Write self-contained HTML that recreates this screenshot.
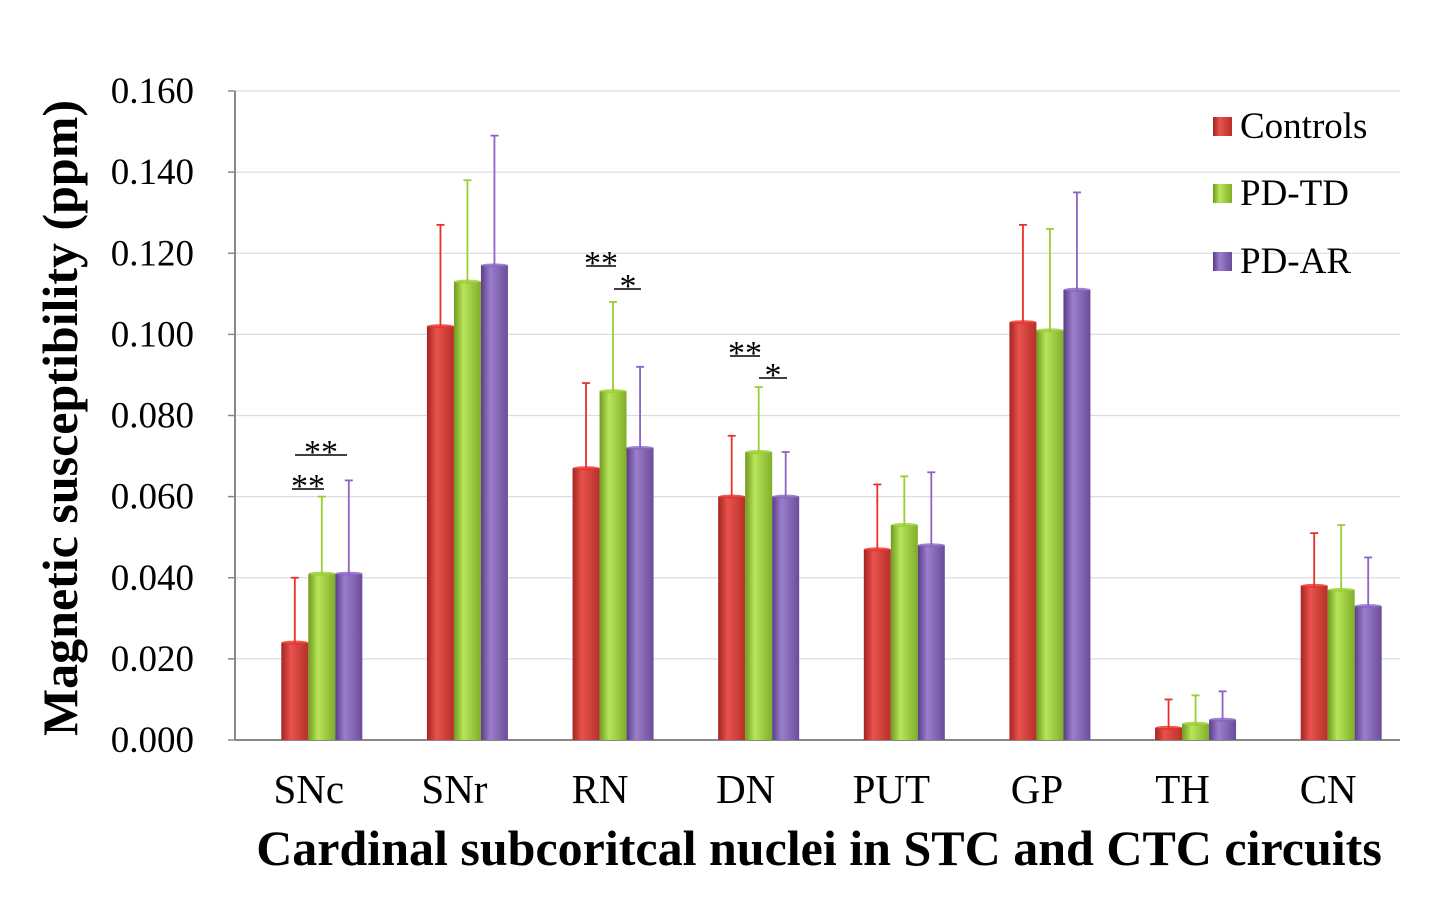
<!DOCTYPE html>
<html><head><meta charset="utf-8"><style>
body{margin:0;background:#fff;}
svg{display:block;font-family:"Liberation Serif",serif;}
</style></head><body>
<svg id="chart" width="1438" height="916" viewBox="0 0 1438 916">
<defs>
<linearGradient id="gr" x1="0" x2="1"><stop offset="0" stop-color="#a52420"/><stop offset="0.35" stop-color="#e8524c"/><stop offset="1" stop-color="#b7302b"/></linearGradient>
<linearGradient id="gg" x1="0" x2="1"><stop offset="0" stop-color="#6f9a1e"/><stop offset="0.35" stop-color="#b9e55a"/><stop offset="1" stop-color="#7fae28"/></linearGradient>
<linearGradient id="gp" x1="0" x2="1"><stop offset="0" stop-color="#5a3d85"/><stop offset="0.35" stop-color="#9b7fcc"/><stop offset="1" stop-color="#6b4d99"/></linearGradient>
</defs>
<g id="grid"></g><g id="bars"></g><g id="labels"></g>
<text transform="translate(77,418) rotate(-90)" text-anchor="middle" font-size="50" font-weight="bold">Magnetic susceptibility (ppm)</text>
<text x="819" y="865" text-anchor="middle" font-size="50" font-weight="bold">Cardinal subcoritcal nuclei in STC and CTC circuits</text>
<g font-size="37">
<rect x="1213" y="117" width="19" height="19" fill="url(#gr)"/>
<text x="1240" y="138">Controls</text>
<rect x="1213" y="184" width="19" height="19" fill="url(#gg)"/>
<text x="1240" y="205">PD-TD</text>
<rect x="1213" y="252" width="19" height="19" fill="url(#gp)"/>
<text x="1240" y="273">PD-AR</text>
</g>
<g font-size="34" text-anchor="middle">
<text x="308" y="497">**</text><line x1="292" x2="324" y1="489" y2="489" stroke="#000" stroke-width="1.5"/>
<text x="321" y="463">**</text><line x1="295" x2="347" y1="455" y2="455" stroke="#000" stroke-width="1.5"/>
<text x="601" y="274">**</text><line x1="586" x2="616" y1="266" y2="266" stroke="#000" stroke-width="1.5"/>
<text x="628" y="297">*</text><line x1="614" x2="641" y1="289" y2="289" stroke="#000" stroke-width="1.5"/>
<text x="745" y="364">**</text><line x1="730" x2="760" y1="356" y2="356" stroke="#000" stroke-width="1.5"/>
<text x="773" y="386">*</text><line x1="759" x2="787" y1="378" y2="378" stroke="#000" stroke-width="1.5"/>
</g>
</svg>
<script>
const categories=["SNc","SNr","RN","DN","PUT","GP","TH","CN"];
const controls=[0.024,0.102,0.067,0.060,0.047,0.103,0.003,0.038];
const pdTD=[0.041,0.113,0.086,0.071,0.053,0.101,0.004,0.037];
const pdAR=[0.041,0.117,0.072,0.060,0.048,0.111,0.005,0.033];
const controlsErr=[0.016,0.025,0.021,0.015,0.016,0.024,0.007,0.013];
const pdTDErr=[0.019,0.025,0.022,0.016,0.012,0.025,0.007,0.016];
const pdARErr=[0.023,0.032,0.020,0.011,0.018,0.024,0.007,0.012];
const yTicks=[0,0.02,0.04,0.06,0.08,0.1,0.12,0.14,0.16];
const NS="http://www.w3.org/2000/svg";
const x0=235,x1=1400,y0=740,y1=91;
const y=v=>y0-(v/0.16)*(y0-y1);
const band=(x1-x0)/categories.length;
const cx=i=>x0+band*(i+0.5);
function mk(t,a,p){const e=document.createElementNS(NS,t);for(const k in a)e.setAttribute(k,a[k]);p.appendChild(e);return e;}
const grid=document.getElementById('grid'),bars=document.getElementById('bars'),labels=document.getElementById('labels');
yTicks.forEach(v=>{
 const l=mk('line',{x1:x0,x2:x1,y1:y(v),y2:y(v),stroke:v===0?'#888':'#dcdce6','stroke-width':v===0?2:1.2},grid);
 
 
 mk('line',{x1:228,x2:x0,y1:y(v),y2:y(v),stroke:'#888','stroke-width':1.5},grid);
 const t=mk('text',{x:194,y:y(v)+12,'text-anchor':'end','font-size':37},labels);
 t.textContent=v.toFixed(3);
 
 
});
mk('line',{x1:x0,x2:x0,y1:y1,y2:y0,stroke:'#888','stroke-width':2},grid);
const series=[[controls,controlsErr,'url(#gr)','#e8312a','controls'],[pdTD,pdTDErr,'url(#gg)','#9acd32','pd-td'],[pdAR,pdARErr,'url(#gp)','#8a63c4','pd-ar']];
const bw=27, shift=14;
categories.forEach((c,i)=>{
 series.forEach((s,j)=>{
  const bx=cx(i)+shift-bw*1.5+j*bw, v=s[0][i], top=y(v), et=y(v+s[1][i]), mx=bx+bw/2;
  const el=mk('line',{x1:mx,x2:mx,y1:et,y2:top,stroke:s[3],'stroke-width':1.8},bars);
  
  
  mk('line',{x1:mx-4,x2:mx+4,y1:et,y2:et,stroke:s[3],'stroke-width':1.8},bars);
  const r=mk('rect',{x:bx,y:top,width:bw,height:y0-top,fill:s[2]},bars);
  
  
  mk('ellipse',{cx:mx,cy:top,rx:bw/2,ry:2,fill:s[3],opacity:0.8},bars);
 });
 const t=mk('text',{x:cx(i)+1,y:803,'text-anchor':'middle','font-size':41},labels);
 t.textContent=c;
 
 
});
</script>
</body></html>
